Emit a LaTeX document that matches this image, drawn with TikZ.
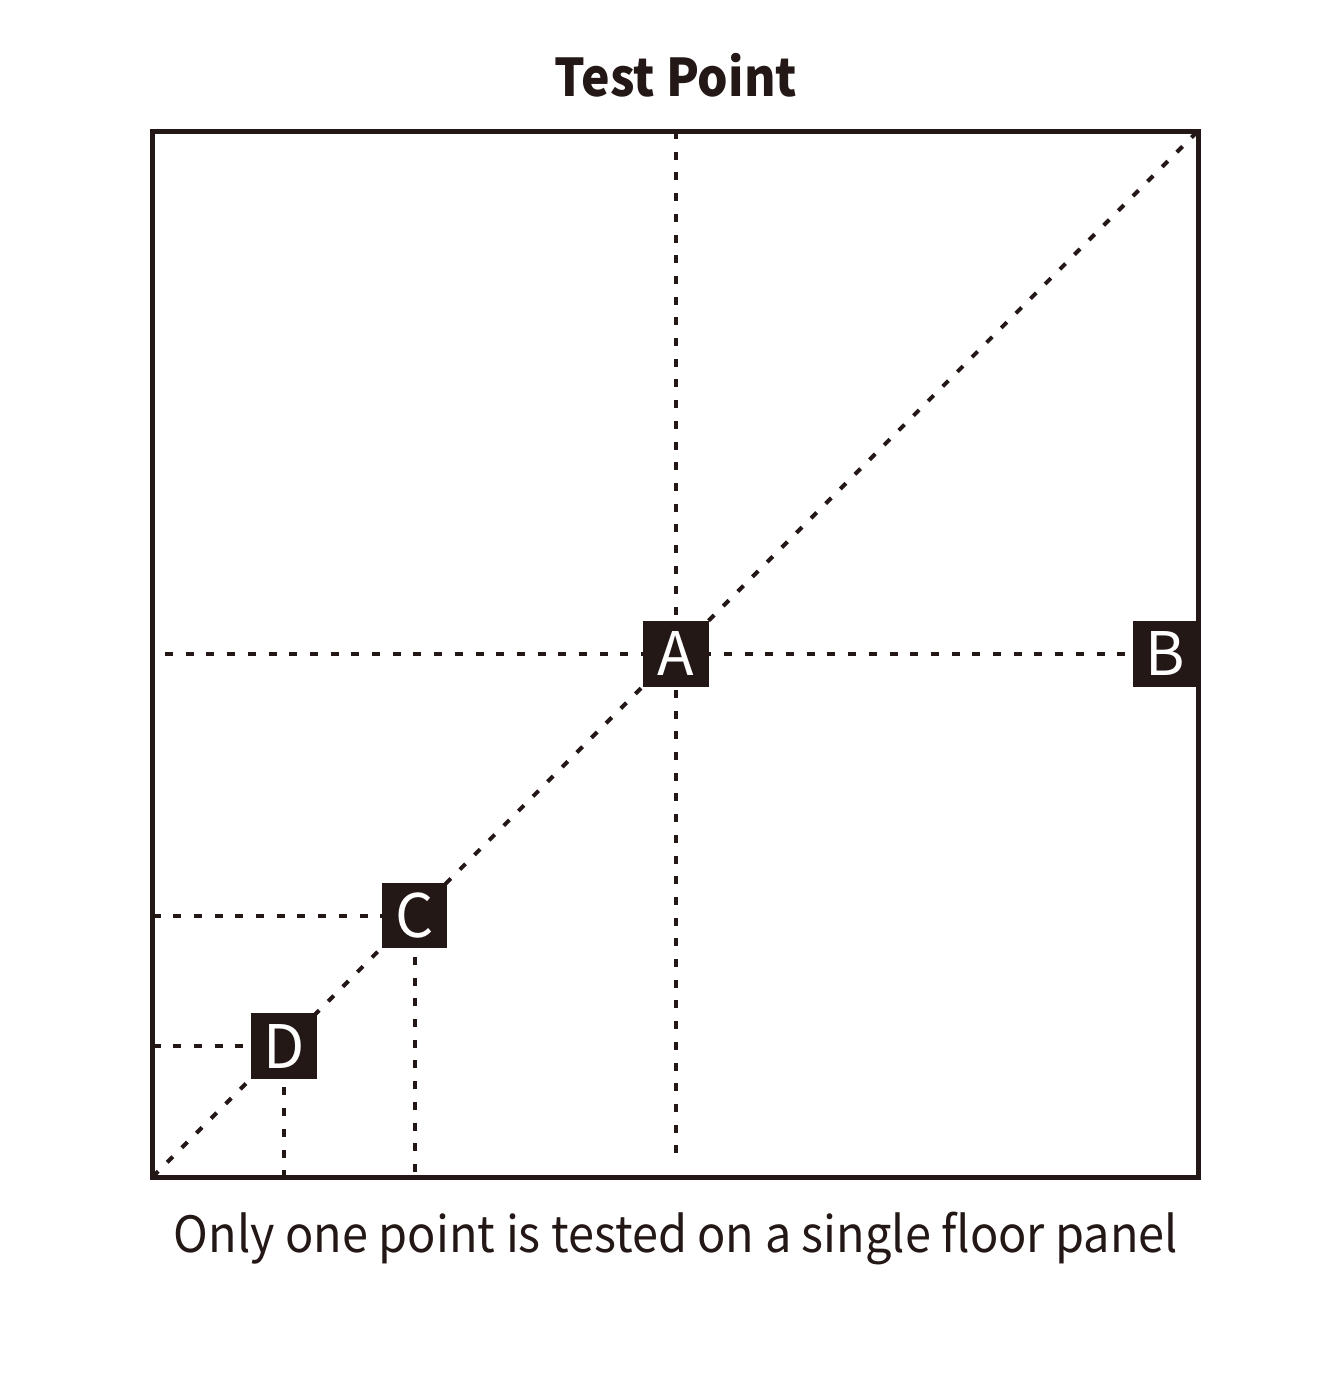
\documentclass[tikz,border=0pt]{standalone}
\usepackage{fontspec}
\setmainfont{Noto Sans CJK SC}
\begin{document}
\begin{tikzpicture}[x=1pt,y=-1pt,
  ink/.style={draw={rgb,255:red,35;green,24;blue,21}},
  frame/.style={ink,line width=5pt,line join=miter},
  dl/.style={ink,line width=4pt,dash pattern=on 8pt off 12.7pt},
  pt/.style={fill={rgb,255:red,35;green,24;blue,21},text=white,minimum size=66pt,inner sep=0pt,font=\fontsize{60}{60}\selectfont}]
\useasboundingbox (0,0) rectangle (1327,1400);
\coordinate (bl) at (152.5,1177);
\coordinate (tr) at (1198,131);
\coordinate (tl) at (152.5,131);
\coordinate (br) at (1198,1177);
% dashed guide lines
\coordinate (Ac) at (676,654);
\coordinate (Cc) at (414.5,915.5);
\coordinate (Dc) at (284,1046);
\draw[dl] (Ac |- tl) -- (676,1164);
\draw[dl] (165,654) -- (1135,654);
\draw[dl] (bl) -- (tr);
\draw[dl] (Cc -| bl) -- (Cc);
\draw[dl] (Cc) -- (Cc |- bl);
\draw[dl] (Dc -| bl) -- (Dc);
\draw[dl] (Dc) -- (Dc |- bl);
% frame
\draw[frame] (tl) rectangle (br);
% points
\node[pt] (A) at (Ac) {A};
\node[pt,minimum width=65pt] (B) at (1165.5,654) {B};
\node[pt,minimum size=65pt] (C) at (Cc) {C};
\node[pt] (D) at (Dc) {D};
% texts
\node[transform shape,xscale=0.925,font=\fontsize{52}{52}\selectfont\bfseries,text={rgb,255:red,35;green,24;blue,21}] (title) at (676,75) {Test Point};
\node[transform shape,xscale=0.937,font=\fontsize{50}{50}\selectfont,text={rgb,255:red,35;green,24;blue,21},anchor=base] (cap) at (676,1252) {Only one point is tested on a single floor panel};
\end{tikzpicture}
\end{document}
